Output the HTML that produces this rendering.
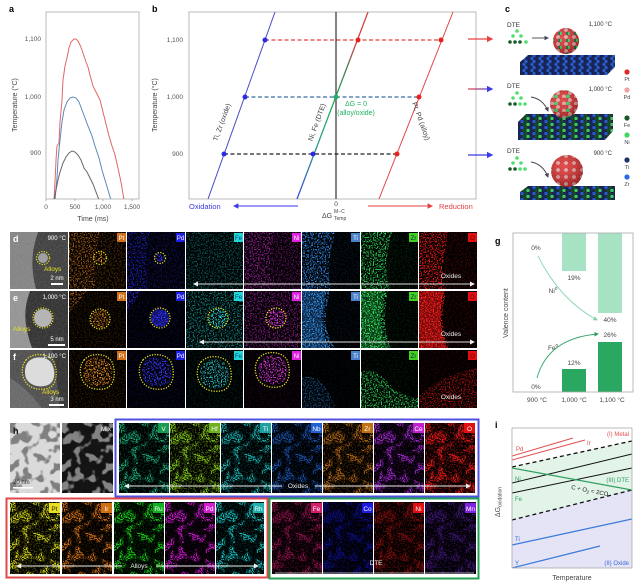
<!DOCTYPE html>
<html><head><meta charset="utf-8">
<style>
html,body{margin:0;padding:0;background:#fff;}
svg{display:block;font-family:"Liberation Sans",sans-serif;}
</style></head><body>
<svg width="640" height="585" viewBox="0 0 640 585" xmlns="http://www.w3.org/2000/svg">
<defs>
<filter id="sp" x="0" y="0" width="1" height="1" color-interpolation-filters="sRGB">
  <feTurbulence type="fractalNoise" baseFrequency="0.75" numOctaves="1" seed="4" result="n"/>
  <feColorMatrix in="n" type="matrix" values="0 0 0 0 0  0 0 0 0 0  0 0 0 0 0  10 0 0 0 -5.1" result="a"/>
  <feComposite in="SourceGraphic" in2="a" operator="in"/>
</filter>
<filter id="blob" x="0" y="0" width="1" height="1" color-interpolation-filters="sRGB">
  <feTurbulence type="fractalNoise" baseFrequency="0.1" numOctaves="2" seed="11" result="b"/>
  <feColorMatrix in="b" type="matrix" values="0 0 0 0 0  0 0 0 0 0  0 0 0 0 0  10 0 0 0 -5.0" result="ba"/>
  <feTurbulence type="fractalNoise" baseFrequency="0.8" numOctaves="1" seed="3" result="f"/>
  <feColorMatrix in="f" type="matrix" values="0 0 0 0 0  0 0 0 0 0  0 0 0 0 0  8 0 0 0 -3.6" result="fa"/>
  <feComposite in="ba" in2="fa" operator="in" result="m"/>
  <feComposite in="SourceGraphic" in2="m" operator="in"/>
</filter>
<filter id="blob0" x="0" y="0" width="1" height="1" color-interpolation-filters="sRGB">
  <feTurbulence type="fractalNoise" baseFrequency="0.1" numOctaves="2" seed="11" result="b"/>
  <feColorMatrix in="b" type="matrix" values="0 0 0 0 0  0 0 0 0 0  0 0 0 0 0  10 0 0 0 -5.1" result="ba"/>
  <feComposite in="SourceGraphic" in2="ba" operator="in"/>
</filter>
<marker id="mr" viewBox="0 0 10 10" refX="8" refY="5" markerWidth="5" markerHeight="5" orient="auto-start-reverse"><path d="M0,0 L10,5 L0,10 z" fill="#e84040"/></marker>
<marker id="mb" viewBox="0 0 10 10" refX="8" refY="5" markerWidth="5" markerHeight="5" orient="auto-start-reverse"><path d="M0,0 L10,5 L0,10 z" fill="#3a3ae8"/></marker>
<marker id="mg" viewBox="0 0 10 10" refX="8" refY="5" markerWidth="5" markerHeight="5" orient="auto-start-reverse"><path d="M0,0 L10,5 L0,10 z" fill="#445"/></marker>
<marker id="mw" viewBox="0 0 10 10" refX="8" refY="5" markerWidth="5" markerHeight="5" orient="auto-start-reverse"><path d="M0,0 L10,5 L0,10 z" fill="#eee"/></marker>
<marker id="mlg" viewBox="0 0 10 10" refX="8" refY="5" markerWidth="5" markerHeight="5" orient="auto-start-reverse"><path d="M0,0 L10,5 L0,10 z" fill="#7fd0a6"/></marker>
<marker id="mdg" viewBox="0 0 10 10" refX="8" refY="5" markerWidth="5" markerHeight="5" orient="auto-start-reverse"><path d="M0,0 L10,5 L0,10 z" fill="#2a9a60"/></marker>
<linearGradient id="dteg" gradientUnits="userSpaceOnUse" x1="297" y1="199" x2="368" y2="12">
  <stop offset="0" stop-color="#3a4ad8"/><stop offset="0.3" stop-color="#2a9a8a"/>
  <stop offset="0.5" stop-color="#20b050"/><stop offset="0.7" stop-color="#4a7a50"/>
  <stop offset="0.82" stop-color="#d04040"/><stop offset="1" stop-color="#e04040"/>
</linearGradient>
<linearGradient id="arg" gradientUnits="userSpaceOnUse" x1="468" y1="0" x2="493" y2="0">
  <stop offset="0" stop-color="#e84040"/><stop offset="1" stop-color="#3a3ae8"/>
</linearGradient>
<pattern id="sb1" width="8" height="6" patternUnits="userSpaceOnUse">
  <rect width="8" height="6" fill="#0e1838"/>
  <circle cx="2" cy="1.5" r="1.8" fill="#1a2858"/><circle cx="6" cy="1.5" r="1.8" fill="#2a5ac8"/>
  <circle cx="0" cy="4.5" r="1.8" fill="#1a2858"/><circle cx="4" cy="4.5" r="1.8" fill="#2a5ac8"/><circle cx="8" cy="4.5" r="1.8" fill="#1a2858"/>
</pattern>
<pattern id="sb2" width="12" height="6" patternUnits="userSpaceOnUse">
  <rect width="12" height="6" fill="#0e1838"/>
  <circle cx="2" cy="1.5" r="1.8" fill="#1a2858"/><circle cx="6" cy="1.5" r="1.8" fill="#2a5ac8"/><circle cx="10" cy="1.5" r="1.8" fill="#1a4a2a"/>
  <circle cx="0" cy="4.5" r="1.8" fill="#40c860"/><circle cx="4" cy="4.5" r="1.8" fill="#1a2858"/><circle cx="8" cy="4.5" r="1.8" fill="#1a4a2a"/><circle cx="12" cy="4.5" r="1.8" fill="#40c860"/>
</pattern>
<pattern id="pm1" width="8" height="7" patternUnits="userSpaceOnUse">
  <rect width="8" height="7" fill="#b01818"/>
  <circle cx="2" cy="2" r="2" fill="#e03030"/><circle cx="6" cy="2" r="2" fill="#f0a0a0"/>
  <circle cx="0" cy="5.5" r="2" fill="#40d060"/><circle cx="4" cy="5.5" r="2" fill="#e03030"/><circle cx="8" cy="5.5" r="2" fill="#1a6a3a"/>
</pattern>
<pattern id="pm2" width="12" height="7" patternUnits="userSpaceOnUse">
  <rect width="12" height="7" fill="#b01818"/>
  <circle cx="2" cy="2" r="2" fill="#e03030"/><circle cx="6" cy="2" r="2" fill="#f0a0a0"/><circle cx="10" cy="2" r="2" fill="#e03030"/>
  <circle cx="0" cy="5.5" r="2" fill="#f0a0a0"/><circle cx="4" cy="5.5" r="2" fill="#40d060"/><circle cx="8" cy="5.5" r="2" fill="#e03030"/><circle cx="12" cy="5.5" r="2" fill="#f0a0a0"/>
</pattern>
<pattern id="pm3" width="8" height="7" patternUnits="userSpaceOnUse">
  <rect width="8" height="7" fill="#b01818"/>
  <circle cx="2" cy="2" r="2" fill="#e03030"/><circle cx="6" cy="2" r="2" fill="#f0a0a0"/>
  <circle cx="0" cy="5.5" r="2" fill="#e03030"/><circle cx="4" cy="5.5" r="2" fill="#e03030"/><circle cx="8" cy="5.5" r="2" fill="#e03030"/>
</pattern>
<radialGradient id="shade" cx="0.4" cy="0.35" r="0.7">
  <stop offset="0" stop-color="#fff" stop-opacity="0.15"/><stop offset="1" stop-color="#000" stop-opacity="0.3"/>
</radialGradient>
<clipPath id="clipA"><rect x="46" y="12" width="93" height="187"/></clipPath>
<clipPath id="clipB"><rect x="189" y="12" width="287" height="187"/></clipPath>
<clipPath id="clipI"><rect x="512" y="428" width="120" height="140"/></clipPath>
</defs>

<rect width="640" height="585" fill="#fff"/>

<!-- ============ PANEL A ============ -->
<text x="9" y="12" font-size="9" font-weight="bold">a</text>
<rect x="46" y="12" width="93" height="187" fill="none" stroke="#aaa" stroke-width="0.8"/>
<g font-size="6.5" fill="#555" text-anchor="end">
  <text x="41" y="41">1,100</text><text x="41" y="99">1,000</text><text x="41" y="155">900</text>
</g>
<text transform="translate(17,105) rotate(-90)" font-size="7" fill="#444" text-anchor="middle">Temperature (°C)</text>
<g stroke="#999" stroke-width="0.7">
  <line x1="46" y1="199" x2="46" y2="201"/><line x1="75" y1="199" x2="75" y2="201"/>
  <line x1="103" y1="199" x2="103" y2="201"/><line x1="132" y1="199" x2="132" y2="201"/>
</g>
<g font-size="6.5" fill="#555" text-anchor="middle">
  <text x="46" y="209">0</text><text x="75" y="209">500</text><text x="103" y="209">1,000</text><text x="132" y="209">1,500</text>
</g>
<text x="93" y="221" font-size="7" fill="#444" text-anchor="middle">Time (ms)</text>
<g clip-path="url(#clipA)" fill="none" stroke-width="1">
  <polyline stroke="#e06666" points="54,200 55,182 56,160 57,146 59,143 60,122 62,100 63,80 65,66 66,62 67,58 69,48 71,42 74,39 76,39 78,41 80,45 82,50 84,56 86,62 88,67 90,75 93,86 96,92 100,100 103,112 106,124 109,136 112,146 115,155 118,168 121,182 124,200"/>
  <polyline stroke="#5a8ab8" points="55,200 57,178 58,160 60,140 62,122 64,110 67,102 70,98 73,97 76,98 79,102 82,110 85,118 88,126 92,136 95,146 99,158 102,170 105,180 108,190 111,200"/>
  <polyline stroke="#666" points="54,200 56,190 58,180 60,172 63,163 66,157 69,153 72,151 75,152 78,155 81,160 84,168 87,172 90,178 93,184 96,192 99,200"/>
</g>

<!-- ============ PANEL B ============ -->
<text x="152" y="12" font-size="9" font-weight="bold">b</text>
<rect x="189" y="12" width="287" height="187" fill="none" stroke="#aaa" stroke-width="0.8"/>
<g font-size="6.5" fill="#555" text-anchor="end">
  <text x="183" y="42">1,100</text><text x="183" y="99">1,000</text><text x="183" y="156">900</text>
</g>
<text transform="translate(157,105) rotate(-90)" font-size="7" fill="#444" text-anchor="middle">Temperature (°C)</text>
<g clip-path="url(#clipB)">
  <line x1="336" y1="12" x2="336" y2="199" stroke="#333" stroke-width="1.2"/>
  <line x1="208" y1="199" x2="275" y2="12" stroke="#4a4ac8" stroke-width="1"/>
  <line x1="297" y1="199" x2="368" y2="12" stroke="url(#dteg)" stroke-width="1.3"/>
  <line x1="379" y1="199" x2="453" y2="12" stroke="#e04848" stroke-width="1"/>
  <line x1="265" y1="40" x2="441" y2="40" stroke="#e84040" stroke-width="1.2" stroke-dasharray="4 2.5"/>
  <line x1="245" y1="97" x2="419" y2="97" stroke="#3a6ea5" stroke-width="1.2" stroke-dasharray="4 2.5"/>
  <line x1="224" y1="154" x2="397" y2="154" stroke="#222" stroke-width="1.2" stroke-dasharray="4 2.5"/>
  <circle cx="265" cy="40" r="2.5" fill="#2a2ae8"/><circle cx="358" cy="40" r="2.5" fill="#e82020"/><circle cx="441" cy="40" r="2.5" fill="#e82020"/>
  <circle cx="245" cy="97" r="2.5" fill="#2a2ae8"/><circle cx="336" cy="97" r="2.5" fill="#20b060"/><circle cx="419" cy="97" r="2.5" fill="#e82020"/>
  <circle cx="224" cy="154" r="2.5" fill="#2a2ae8"/><circle cx="313" cy="154" r="2.5" fill="#2a2ae8"/><circle cx="397" cy="154" r="2.5" fill="#e82020"/>
</g>
<g font-size="7" fill="#444" text-anchor="middle">
  <text transform="translate(224,123) rotate(-70)">Ti, Zr (oxide)</text>
  <text transform="translate(319,123) rotate(-70)">Ni, Fe (DTE)</text>
  <text transform="translate(419,122) rotate(70)">Pt, Pd (alloy)</text>
</g>
<g font-size="7" fill="#20b060" text-anchor="middle">
  <text x="356" y="106">ΔG = 0</text><text x="356" y="115">(alloy/oxide)</text>
</g>
<text x="336" y="206" font-size="6.5" fill="#444" text-anchor="middle">0</text>
<text x="322" y="218" font-size="7" fill="#444">ΔG</text>
<text x="334" y="213" font-size="5" fill="#444">M−C</text>
<text x="334" y="220" font-size="5" fill="#444">Temp</text>
<text x="189" y="209" font-size="7.5" fill="#3a3ae0">Oxidation</text>
<line x1="298" y1="206" x2="234" y2="206" stroke="#3a3ae8" stroke-width="1.1" marker-end="url(#mb)"/>
<line x1="368" y1="206" x2="432" y2="206" stroke="#e84040" stroke-width="1.1" marker-end="url(#mr)"/>
<text x="439" y="209" font-size="7.5" fill="#e04040">Reduction</text>

<!-- ============ PANEL C ============ -->
<text x="505" y="12" font-size="9" font-weight="bold">c</text>
<line x1="468" y1="39" x2="492" y2="39" stroke="#e84040" stroke-width="1.3" marker-end="url(#mr)"/>
<line x1="468" y1="89" x2="492" y2="89" stroke="url(#arg)" stroke-width="1.3" marker-end="url(#mb)"/>
<line x1="468" y1="155" x2="492" y2="155" stroke="#3a3ae8" stroke-width="1.3" marker-end="url(#mb)"/>
<g font-size="6.5" fill="#333">
  <text x="507" y="27">DTE</text><text x="507" y="88">DTE</text><text x="507" y="153">DTE</text>
  <text x="612" y="26" text-anchor="end" font-size="6">1,100 °C</text>
  <text x="612" y="91" text-anchor="end" font-size="6">1,000 °C</text>
  <text x="612" y="155" text-anchor="end" font-size="6">900 °C</text>
</g>
<g>
  <circle cx="517" cy="31" r="1.8" fill="#50e070"/><circle cx="513" cy="36" r="1.8" fill="#50e070"/><circle cx="521" cy="36" r="1.8" fill="#50e070"/>
  <circle cx="510" cy="42" r="1.8" fill="#1a5a2a"/><circle cx="515" cy="42" r="1.8" fill="#1a5a2a"/><circle cx="520" cy="42" r="1.8" fill="#1a5a2a"/><circle cx="526" cy="42" r="1.8" fill="#50e070"/>
  <circle cx="517" cy="93" r="1.8" fill="#50e070"/><circle cx="513" cy="98" r="1.8" fill="#50e070"/><circle cx="521" cy="98" r="1.8" fill="#50e070"/>
  <circle cx="510" cy="104" r="1.8" fill="#1a5a2a"/><circle cx="515" cy="104" r="1.8" fill="#1a5a2a"/><circle cx="520" cy="104" r="1.8" fill="#50e070"/><circle cx="525" cy="104" r="1.8" fill="#50e070"/>
  <circle cx="517" cy="158" r="1.8" fill="#50e070"/><circle cx="513" cy="163" r="1.8" fill="#50e070"/><circle cx="521" cy="163" r="1.8" fill="#50e070"/>
  <circle cx="510" cy="169" r="1.8" fill="#1a5a2a"/><circle cx="515" cy="169" r="1.8" fill="#1a5a2a"/><circle cx="520" cy="169" r="1.8" fill="#50e070"/><circle cx="525" cy="169" r="1.8" fill="#50e070"/>
</g>
<line x1="532" y1="38" x2="548" y2="38" stroke="#445" stroke-width="0.9" marker-end="url(#mg)"/>
<path d="M531,97 Q543,99 548,111" fill="none" stroke="#445" stroke-width="0.9" marker-end="url(#mg)"/>
<path d="M531,162 Q543,164 548,177" fill="none" stroke="#445" stroke-width="0.9" marker-end="url(#mg)"/>
<path d="M520,62 L528,55 L615,55 L615,67 L607,75 L520,75 Z" fill="url(#sb1)"/>
<path d="M518,122 L526,114 L613,114 L613,131 L605,140 L518,140 Z" fill="url(#sb2)"/>
<path d="M520,192 L528,186 L615,186 L615,200 L520,200 Z" fill="url(#sb2)"/>
<circle cx="566" cy="41" r="13" fill="url(#pm1)"/><circle cx="566" cy="41" r="13" fill="url(#shade)"/>
<circle cx="564" cy="104" r="14" fill="url(#pm2)"/><circle cx="564" cy="104" r="14" fill="url(#shade)"/>
<circle cx="567" cy="171" r="16" fill="url(#pm3)"/><circle cx="567" cy="171" r="16" fill="url(#shade)"/>
<g font-size="5.5" fill="#444" text-anchor="middle">
  <circle cx="627" cy="72" r="2.6" fill="#e02828"/><text x="627" y="81">Pt</text>
  <circle cx="627" cy="90" r="2.6" fill="#f0a0a0"/><text x="627" y="99">Pd</text>
  <circle cx="627" cy="118" r="2.6" fill="#1a5a2a"/><text x="627" y="127">Fe</text>
  <circle cx="627" cy="135" r="2.6" fill="#40d860"/><text x="627" y="144">Ni</text>
  <circle cx="627" cy="160" r="2.6" fill="#1e3068"/><text x="627" y="169">Ti</text>
  <circle cx="627" cy="177" r="2.6" fill="#2a6ae0"/><text x="627" y="186">Zr</text>
</g>

<!-- ============ PANELS D-F ============ -->
<g fill="#000">
  <rect x="69" y="232" width="57" height="57"/><rect x="127" y="232" width="58" height="57"/><rect x="186" y="232" width="57" height="57"/><rect x="244" y="232" width="57" height="57"/><rect x="302" y="232" width="58" height="57"/><rect x="361" y="232" width="57" height="57"/><rect x="419" y="232" width="58" height="57"/>
  <rect x="69" y="291" width="57" height="57"/><rect x="127" y="291" width="58" height="57"/><rect x="186" y="291" width="57" height="57"/><rect x="244" y="291" width="57" height="57"/><rect x="302" y="291" width="58" height="57"/><rect x="361" y="291" width="57" height="57"/><rect x="419" y="291" width="58" height="57"/>
  <rect x="69" y="350" width="57" height="58"/><rect x="127" y="350" width="58" height="58"/><rect x="186" y="350" width="57" height="58"/><rect x="244" y="350" width="57" height="58"/><rect x="302" y="350" width="58" height="58"/><rect x="361" y="350" width="57" height="58"/><rect x="419" y="350" width="58" height="58"/>
</g>
<!-- HAADF d -->
<rect x="10" y="232" width="58" height="57" fill="#444"/>
<path d="M10,232 H38 C32,250 30,265 36,289 H10 Z" fill="#858585"/>
<rect x="10" y="232" width="58" height="57" fill="#fff" filter="url(#sp)" opacity="0.08"/>
<circle cx="43" cy="258" r="5" fill="#a0a0a0"/>
<circle cx="43" cy="258" r="6.5" fill="none" stroke="#e8e020" stroke-width="1.3" stroke-dasharray="1.2 1.4"/>
<text x="13" y="242" font-size="9" font-weight="bold" fill="#fff">d</text>
<text x="66" y="240" font-size="6" fill="#fff" text-anchor="end">900 °C</text>
<text x="44" y="271" font-size="6.5" fill="#e8e020">Alloys</text>
<text x="57" y="280" font-size="6" fill="#fff" text-anchor="middle">2 nm</text>
<rect x="51" y="283" width="12" height="2" fill="#fff"/>
<!-- HAADF e -->
<rect x="10" y="291" width="58" height="57" fill="#363636"/>
<path d="M10,291 H30 C25,305 22,320 32,348 H10 Z" fill="#959595"/>
<rect x="10" y="291" width="58" height="57" fill="#fff" filter="url(#sp)" opacity="0.08"/>
<circle cx="43" cy="318" r="9" fill="#b5b5b5"/>
<circle cx="43" cy="318" r="10" fill="none" stroke="#e8e020" stroke-width="1.3" stroke-dasharray="1.2 1.4"/>
<text x="13" y="301" font-size="9" font-weight="bold" fill="#fff">e</text>
<text x="66" y="299" font-size="6" fill="#fff" text-anchor="end">1,000 °C</text>
<text x="13" y="331" font-size="6.5" fill="#e8e020">Alloys</text>
<text x="57" y="341" font-size="6" fill="#fff" text-anchor="middle">5 nm</text>
<rect x="48" y="344" width="17" height="2" fill="#fff"/>
<!-- HAADF f -->
<rect x="10" y="350" width="58" height="58" fill="#525252"/>
<path d="M10,378 C22,385 32,395 42,408 H10 Z" fill="#6a6a6a"/>
<path d="M52,350 H68 V408 H60 C58,395 56,370 52,350Z" fill="#363636"/>
<rect x="10" y="350" width="58" height="58" fill="#fff" filter="url(#sp)" opacity="0.08"/>
<path d="M28,362 C34,355 48,356 52,364 C56,372 55,382 48,385 C40,388 30,386 26,378 C24,372 25,366 28,362Z" fill="#dcdcdc"/>
<path d="M26,360 C33,352 49,353 54,362 C58,372 57,384 49,388 C40,391 28,389 24,379 C21,372 22,365 26,360Z" fill="none" stroke="#e8e020" stroke-width="1.3" stroke-dasharray="1.2 1.4"/>
<text x="13" y="360" font-size="9" font-weight="bold" fill="#fff">f</text>
<text x="66" y="358" font-size="6" fill="#fff" text-anchor="end">1,100 °C</text>
<text x="42" y="394" font-size="6.5" fill="#e8e020">Alloys</text>
<text x="57" y="401" font-size="6" fill="#fff" text-anchor="middle">3 nm</text>
<rect x="49" y="404" width="15" height="2" fill="#fff"/>

<!-- Row d maps -->
<g>
  <rect x="69" y="232" width="57" height="57" fill="#c87018" filter="url(#sp)" opacity="0.35"/>
  <path d="M69,232 H100 C95,250 92,270 96,289 H69 Z" fill="#c87018" filter="url(#sp)" opacity="0.6"/>
  <circle cx="100" cy="258" r="5" fill="#e08820" filter="url(#sp)"/>
  <rect x="127" y="232" width="58" height="57" fill="#2828e0" filter="url(#sp)" opacity="0.35"/>
  <path d="M127,232 H150 C146,250 144,270 148,289 H127 Z" fill="#2828e0" filter="url(#sp)" opacity="0.6"/>
  <circle cx="160" cy="258" r="4.5" fill="#3838ff" filter="url(#sp)"/>
  <rect x="186" y="232" width="57" height="57" fill="#18c0c0" filter="url(#sp)" opacity="0.4"/>
  <rect x="244" y="232" width="57" height="57" fill="#b828b8" filter="url(#sp)" opacity="0.45"/>
  <path d="M244,232 H275 C270,250 268,270 272,289 H244 Z" fill="#b828b8" filter="url(#sp)" opacity="0.5"/>
  <rect x="302" y="232" width="58" height="57" fill="#2a80d8" filter="url(#sp)" opacity="0.15"/>
  <path d="M302,232 H335 C330,250 326,270 332,289 H302 Z" fill="#2a80d8" filter="url(#sp)"/>
  <rect x="361" y="232" width="57" height="57" fill="#28c850" filter="url(#sp)" opacity="0.15"/>
  <path d="M361,232 H392 C386,255 384,270 390,289 H361 Z" fill="#28c850" filter="url(#sp)"/>
  <rect x="419" y="232" width="58" height="57" fill="#e01818" filter="url(#sp)" opacity="0.25"/>
  <path d="M419,232 H448 C444,255 440,270 446,289 H419 Z" fill="#e01818" filter="url(#sp)"/>
</g>
<!-- Row e maps -->
<g>
  <rect x="69" y="291" width="57" height="57" fill="#c87018" filter="url(#sp)" opacity="0.2"/>
  <path d="M69,291 H86 C80,300 75,306 69,312 Z" fill="#c87018" filter="url(#sp)" opacity="0.8"/>
  <circle cx="100" cy="319" r="9" fill="#e08820" filter="url(#sp)" opacity="0.9"/>
  <rect x="127" y="291" width="58" height="57" fill="#2828e0" filter="url(#sp)" opacity="0.2"/>
  <path d="M127,291 H141 C136,300 132,306 127,313 Z" fill="#2828e0" filter="url(#sp)" opacity="0.9"/>
  <circle cx="160" cy="318" r="9" fill="#2020c8" opacity="0.5"/>
  <circle cx="160" cy="318" r="9" fill="#3838ff" filter="url(#sp)"/>
  <rect x="186" y="291" width="57" height="57" fill="#18c0c0" filter="url(#sp)" opacity="0.6"/>
  <circle cx="218" cy="318" r="9" fill="#30e8e8" filter="url(#sp)"/>
  <rect x="244" y="291" width="57" height="57" fill="#b828b8" filter="url(#sp)" opacity="0.6"/>
  <circle cx="276" cy="318" r="9" fill="#e038e0" filter="url(#sp)"/>
  <rect x="302" y="291" width="58" height="57" fill="#2a80d8" filter="url(#sp)" opacity="0.12"/>
  <path d="M302,291 H326 C322,310 318,330 330,348 H302 Z" fill="#2a70c0" opacity="0.35"/>
  <path d="M302,291 H330 C325,310 322,330 335,348 H302 Z" fill="#3090e8" filter="url(#sp)"/>
  <rect x="361" y="291" width="57" height="57" fill="#28c850" filter="url(#sp)" opacity="0.12"/>
  <path d="M361,291 H384 C380,310 378,330 388,348 H361 Z" fill="#20a040" opacity="0.35"/>
  <path d="M361,291 H388 C384,310 382,330 392,348 H361 Z" fill="#30e060" filter="url(#sp)"/>
  <rect x="419" y="291" width="58" height="57" fill="#e01818" filter="url(#sp)" opacity="0.2"/>
  <path d="M419,291 H444 C440,310 438,330 447,348 H419 Z" fill="#d01010" opacity="0.55"/>
  <path d="M419,291 H446 C442,310 440,330 450,348 H419 Z" fill="#ff2020" filter="url(#sp)"/>
</g>
<!-- Row f maps -->
<g>
  <rect x="69" y="350" width="57" height="58" fill="#c87018" filter="url(#sp)" opacity="0.2"/>
  <path d="M86,362 C92,355 106,356 110,364 C114,372 113,382 106,385 C98,388 88,386 84,378 C82,372 83,366 86,362Z" fill="#e08820" filter="url(#sp)"/>
  <rect x="127" y="350" width="58" height="58" fill="#2828e0" filter="url(#sp)" opacity="0.2"/>
  <path d="M145,362 C151,355 165,356 169,364 C173,372 172,382 165,385 C157,388 147,386 143,378 C141,372 142,366 145,362Z" fill="#3838ff" filter="url(#sp)"/>
  <rect x="186" y="350" width="57" height="58" fill="#18c0c0" filter="url(#sp)" opacity="0.12"/>
  <path d="M203,364 C209,357 223,358 227,366 C231,374 230,384 223,387 C215,390 205,388 201,380 C199,374 200,368 203,364Z" fill="#30e0e0" filter="url(#sp)" opacity="0.8"/>
  <rect x="244" y="350" width="57" height="58" fill="#b828b8" filter="url(#sp)" opacity="0.12"/>
  <path d="M261,360 C267,353 281,354 285,362 C289,370 288,380 281,383 C273,386 263,384 259,376 C257,370 258,364 261,360Z" fill="#e038e0" filter="url(#sp)" opacity="0.9"/>
  <rect x="302" y="350" width="58" height="58" fill="#2a80d8" filter="url(#sp)" opacity="0.08"/>
  <path d="M302,378 C315,372 325,382 336,408 H302 Z" fill="#2a80d8" filter="url(#sp)" opacity="0.5"/>
  <rect x="361" y="350" width="57" height="58" fill="#28c850" filter="url(#sp)" opacity="0.1"/>
  <path d="M361,372 C375,365 385,380 395,390 C405,395 410,398 418,398 V408 H361 Z" fill="#30e060" filter="url(#sp)" opacity="0.8"/>
  <rect x="419" y="350" width="58" height="58" fill="#e01818" filter="url(#sp)" opacity="0.15"/>
  <path d="M419,408 V396 C430,386 440,380 450,376 C460,372 470,370 477,368 V408 Z" fill="#e01818" filter="url(#sp)" opacity="0.6"/>
</g>
<g fill="none" stroke="#e8e020" stroke-width="1.3" stroke-dasharray="1.2 1.4">
  <circle cx="100" cy="258" r="6.5"/><circle cx="160" cy="258" r="5.5"/>
  <circle cx="100" cy="319" r="10"/><circle cx="160" cy="318" r="10"/><circle cx="218" cy="318" r="10"/><circle cx="276" cy="318" r="10"/>
  <path d="M84,360 C91,352 107,353 112,362 C116,372 115,384 107,388 C98,391 86,389 82,379 C79,372 80,365 84,360Z"/>
  <path d="M143,360 C150,352 166,353 171,362 C175,372 174,384 166,388 C157,391 145,389 141,379 C138,372 139,365 143,360Z"/>
  <path d="M201,362 C208,354 224,355 229,364 C233,374 232,386 224,390 C215,393 203,391 199,381 C196,374 197,367 201,362Z"/>
  <path d="M259,358 C266,350 282,351 287,360 C291,370 290,382 282,386 C273,389 261,387 257,377 C254,370 255,363 259,358Z"/>
</g>
<g font-size="6" text-anchor="middle">
  <rect x="117" y="233" width="9" height="9" fill="#d0701a"/><text x="121.5" y="240" fill="#fff">Pt</text>
  <rect x="176" y="233" width="9" height="9" fill="#2020e0"/><text x="180.5" y="240" fill="#fff">Pd</text>
  <rect x="234" y="233" width="9" height="9" fill="#20d8d8"/><text x="238.5" y="240" fill="#0a3a7a">Fe</text>
  <rect x="292" y="233" width="9" height="9" fill="#e020e0"/><text x="296.5" y="240" fill="#fff">Ni</text>
  <rect x="351" y="233" width="9" height="9" fill="#4a80c8"/><text x="355.5" y="240" fill="#fff">Ti</text>
  <rect x="409" y="233" width="9" height="9" fill="#40d020"/><text x="413.5" y="240" fill="#124">Zr</text>
  <rect x="468" y="233" width="9" height="9" fill="#e01010"/><text x="472.5" y="240" fill="#600">O</text>
  <rect x="117" y="292" width="9" height="9" fill="#d0701a"/><text x="121.5" y="299" fill="#fff">Pt</text>
  <rect x="176" y="292" width="9" height="9" fill="#2020e0"/><text x="180.5" y="299" fill="#fff">Pd</text>
  <rect x="234" y="292" width="9" height="9" fill="#20d8d8"/><text x="238.5" y="299" fill="#0a3a7a">Fe</text>
  <rect x="292" y="292" width="9" height="9" fill="#e020e0"/><text x="296.5" y="299" fill="#fff">Ni</text>
  <rect x="351" y="292" width="9" height="9" fill="#4a80c8"/><text x="355.5" y="299" fill="#fff">Ti</text>
  <rect x="409" y="292" width="9" height="9" fill="#40d020"/><text x="413.5" y="299" fill="#124">Zr</text>
  <rect x="468" y="292" width="9" height="9" fill="#e01010"/><text x="472.5" y="299" fill="#600">O</text>
  <rect x="117" y="351" width="9" height="9" fill="#d0701a"/><text x="121.5" y="358" fill="#fff">Pt</text>
  <rect x="176" y="351" width="9" height="9" fill="#2020e0"/><text x="180.5" y="358" fill="#fff">Pd</text>
  <rect x="234" y="351" width="9" height="9" fill="#20d8d8"/><text x="238.5" y="358" fill="#0a3a7a">Fe</text>
  <rect x="292" y="351" width="9" height="9" fill="#e020e0"/><text x="296.5" y="358" fill="#fff">Ni</text>
  <rect x="351" y="351" width="9" height="9" fill="#4a80c8"/><text x="355.5" y="358" fill="#fff">Ti</text>
  <rect x="409" y="351" width="9" height="9" fill="#40d020"/><text x="413.5" y="358" fill="#124">Zr</text>
  <rect x="468" y="351" width="9" height="9" fill="#e01010"/><text x="472.5" y="358" fill="#600">O</text>
</g>
<line x1="194" y1="284" x2="474" y2="284" stroke="#ddd" stroke-width="1" marker-start="url(#mw)" marker-end="url(#mw)"/>
<text x="451" y="278" font-size="6.5" fill="#eee" text-anchor="middle">Oxides</text>
<line x1="200" y1="342" x2="474" y2="342" stroke="#ddd" stroke-width="1" marker-start="url(#mw)" marker-end="url(#mw)"/>
<text x="451" y="336" font-size="6.5" fill="#eee" text-anchor="middle">Oxides</text>
<text x="451" y="399" font-size="6.5" fill="#eee" text-anchor="middle">Oxides</text>

<!-- ============ PANEL G ============ -->
<text x="495" y="244" font-size="9" font-weight="bold">g</text>
<rect x="562" y="233" width="24" height="38" fill="#a8e2c4"/>
<rect x="598" y="233" width="24" height="80" fill="#a8e2c4"/>
<rect x="562" y="369" width="24" height="23" fill="#2aa862"/>
<rect x="598" y="342" width="24" height="50" fill="#2aa862"/>
<rect x="513" y="233" width="120" height="159" fill="none" stroke="#aaa" stroke-width="0.8"/>
<g font-size="6.5" fill="#444" text-anchor="middle">
  <text x="536" y="250">0%</text><text x="574" y="280">19%</text><text x="610" y="322">40%</text>
  <text x="610" y="337">26%</text><text x="574" y="365">12%</text><text x="536" y="389">0%</text>
  <text x="553" y="293">Ni<tspan font-size="4.5" dy="-3">0</tspan></text>
  <text x="553" y="350">Fe<tspan font-size="4.5" dy="-3">0</tspan></text>
  <text x="537" y="402">900 °C</text><text x="574" y="402">1,000 °C</text><text x="612" y="402">1,100 °C</text>
</g>
<path d="M538,256 Q560,300 597,320" fill="none" stroke="#8ad8b0" stroke-width="0.9" marker-end="url(#mlg)"/>
<path d="M537,378 Q548,338 598,334" fill="none" stroke="#3aa870" stroke-width="0.9" marker-end="url(#mdg)"/>
<text transform="translate(508,313) rotate(-90)" font-size="7" fill="#444" text-anchor="middle">Valence content</text>

<!-- ============ PANEL H ============ -->
<rect x="10" y="423" width="50" height="70" fill="#dadada"/>
<g transform="translate(10,423)"><rect width="50" height="70" fill="#5a5a5a" filter="url(#blob0)" opacity="0.7"/></g>
<text x="13" y="434" font-size="9" font-weight="bold" fill="#111">h</text>
<text x="13" y="484" font-size="6" fill="#222">20 nm</text>
<rect x="13" y="487" width="20" height="1.6" fill="#fff"/>
<rect x="62" y="423" width="51" height="70" fill="#141414"/>
<g transform="translate(62,423)"><rect width="51" height="70" fill="#a8a8a8" filter="url(#blob0)" opacity="0.75"/></g>
<text x="111" y="431" font-size="6.5" fill="#eee" text-anchor="end">Mix</text>
<rect x="115.5" y="419.5" width="363" height="77" fill="none" stroke="#5050e0" stroke-width="2"/>
<g>
  <rect x="119" y="423" width="50" height="70" fill="#000"/><rect x="170" y="423" width="50" height="70" fill="#000"/><rect x="221" y="423" width="50" height="70" fill="#000"/><rect x="272" y="423" width="50" height="70" fill="#000"/><rect x="323" y="423" width="50" height="70" fill="#000"/><rect x="374" y="423" width="50" height="70" fill="#000"/><rect x="425" y="423" width="50" height="70" fill="#000"/>
  <g transform="translate(119,423)"><rect width="50" height="70" fill="#18a878" filter="url(#blob)"/><rect width="50" height="70" fill="#18a878" filter="url(#sp)" opacity="0.25"/></g>
  <g transform="translate(170,423)"><rect width="50" height="70" fill="#80c018" filter="url(#blob)"/><rect width="50" height="70" fill="#80c018" filter="url(#sp)" opacity="0.45"/></g>
  <g transform="translate(221,423)"><rect width="50" height="70" fill="#18b0b0" filter="url(#blob)"/><rect width="50" height="70" fill="#18b0b0" filter="url(#sp)" opacity="0.25"/></g>
  <g transform="translate(272,423)"><rect width="50" height="70" fill="#2060c8" filter="url(#blob)" opacity="0.85"/><rect width="50" height="70" fill="#2060c8" filter="url(#sp)" opacity="0.25"/></g>
  <g transform="translate(323,423)"><rect width="50" height="70" fill="#c07018" filter="url(#blob)" opacity="0.9"/><rect width="50" height="70" fill="#c07018" filter="url(#sp)" opacity="0.3"/></g>
  <g transform="translate(374,423)"><rect width="50" height="70" fill="#a028d0" filter="url(#blob)"/><rect width="50" height="70" fill="#a028d0" filter="url(#sp)" opacity="0.25"/></g>
  <g transform="translate(425,423)"><rect width="50" height="70" fill="#e81818" filter="url(#blob)"/><rect width="50" height="70" fill="#e81818" filter="url(#sp)" opacity="0.5"/></g>
</g>
<g font-size="6.5" text-anchor="middle">
  <rect x="158" y="423" width="11" height="10" fill="#1a9a50"/><text x="163.5" y="431" fill="#fff">V</text>
  <rect x="209" y="423" width="11" height="10" fill="#70b020"/><text x="214.5" y="431" fill="#fff">Hf</text>
  <rect x="260" y="423" width="11" height="10" fill="#20a0a0"/><text x="265.5" y="431" fill="#fff">Ti</text>
  <rect x="311" y="423" width="11" height="10" fill="#2060d0"/><text x="316.5" y="431" fill="#fff">Nb</text>
  <rect x="362" y="423" width="11" height="10" fill="#c07010"/><text x="367.5" y="431" fill="#fff">Zr</text>
  <rect x="413" y="423" width="11" height="10" fill="#c020d0"/><text x="418.5" y="431" fill="#fff">Ce</text>
  <rect x="464" y="423" width="11" height="10" fill="#e01010"/><text x="469.5" y="431" fill="#fff">O</text>
</g>
<line x1="282" y1="486" x2="125" y2="486" stroke="#eee" stroke-width="1" marker-end="url(#mw)"/>
<line x1="315" y1="486" x2="470" y2="486" stroke="#eee" stroke-width="1" marker-end="url(#mw)"/>
<text x="298" y="488" font-size="6.5" fill="#eee" text-anchor="middle">Oxides</text>

<rect x="6.5" y="498.5" width="261" height="79" fill="none" stroke="#e04848" stroke-width="2"/>
<g>
  <rect x="10" y="502" width="50" height="72" fill="#000"/><rect x="62" y="502" width="50" height="72" fill="#000"/><rect x="114" y="502" width="50" height="72" fill="#000"/><rect x="165" y="502" width="50" height="72" fill="#000"/><rect x="216" y="502" width="48" height="72" fill="#000"/>
  <g transform="translate(10,502)"><rect width="50" height="72" fill="#d0d018" filter="url(#blob)"/><rect width="50" height="72" fill="#d0d018" filter="url(#sp)" opacity="0.3"/></g>
  <g transform="translate(62,502)"><rect width="50" height="72" fill="#d07018" filter="url(#blob)"/><rect width="50" height="72" fill="#d07018" filter="url(#sp)" opacity="0.2"/></g>
  <g transform="translate(114,502)"><rect width="50" height="72" fill="#18d018" filter="url(#blob)"/><rect width="50" height="72" fill="#18d018" filter="url(#sp)" opacity="0.2"/></g>
  <g transform="translate(165,502)"><rect width="50" height="72" fill="#d018d0" filter="url(#blob)"/><rect width="50" height="72" fill="#d018d0" filter="url(#sp)" opacity="0.15"/></g>
  <g transform="translate(216,502)"><rect width="48" height="72" fill="#18c0c0" filter="url(#blob)"/><rect width="48" height="72" fill="#18c0c0" filter="url(#sp)" opacity="0.2"/></g>
</g>
<g font-size="6.5" text-anchor="middle">
  <rect x="49" y="503" width="11" height="10" fill="#e8e020"/><text x="54.5" y="511" fill="#222">Pt</text>
  <rect x="101" y="503" width="11" height="10" fill="#d07010"/><text x="106.5" y="511" fill="#fff">Ir</text>
  <rect x="153" y="503" width="11" height="10" fill="#10b020"/><text x="158.5" y="511" fill="#fff">Ru</text>
  <rect x="204" y="503" width="11" height="10" fill="#d020d0"/><text x="209.5" y="511" fill="#fff">Pd</text>
  <rect x="253" y="503" width="11" height="10" fill="#20b0b0"/><text x="258.5" y="511" fill="#fff">Rh</text>
</g>
<line x1="122" y1="566" x2="17" y2="566" stroke="#eee" stroke-width="1" marker-end="url(#mw)"/>
<line x1="156" y1="566" x2="258" y2="566" stroke="#eee" stroke-width="1" marker-end="url(#mw)"/>
<text x="139" y="568" font-size="6.5" fill="#eee" text-anchor="middle">Alloys</text>

<rect x="269.5" y="498.5" width="209" height="80" fill="none" stroke="#20a050" stroke-width="2"/>
<g>
  <rect x="272" y="502" width="50" height="72" fill="#000"/><rect x="323" y="502" width="50" height="72" fill="#000"/><rect x="374" y="502" width="50" height="72" fill="#000"/><rect x="425" y="502" width="51" height="72" fill="#000"/>
  <g transform="translate(272,502)"><rect width="50" height="72" fill="#c01868" filter="url(#blob)" opacity="0.7"/><rect width="50" height="72" fill="#c01868" filter="url(#sp)" opacity="0.3"/></g>
  <g transform="translate(323,502)"><rect width="50" height="72" fill="#1818e8" filter="url(#blob)" opacity="0.55"/><rect width="50" height="72" fill="#1818e8" filter="url(#sp)" opacity="0.3"/></g>
  <g transform="translate(374,502)"><rect width="50" height="72" fill="#d01818" filter="url(#blob)" opacity="0.55"/><rect width="50" height="72" fill="#d01818" filter="url(#sp)" opacity="0.35"/></g>
  <g transform="translate(425,502)"><rect width="51" height="72" fill="#7028d0" filter="url(#blob)" opacity="0.5"/><rect width="51" height="72" fill="#7028d0" filter="url(#sp)" opacity="0.3"/></g>
</g>
<g font-size="6.5" text-anchor="middle">
  <rect x="311" y="503" width="11" height="10" fill="#d0206a"/><text x="316.5" y="511" fill="#fff">Fe</text>
  <rect x="362" y="503" width="11" height="10" fill="#1a1ae0"/><text x="367.5" y="511" fill="#fff">Co</text>
  <rect x="413" y="503" width="11" height="10" fill="#e01010"/><text x="418.5" y="511" fill="#fff">Ni</text>
  <rect x="465" y="503" width="11" height="10" fill="#8020e0"/><text x="470.5" y="511" fill="#fff">Mn</text>
</g>
<line x1="275" y1="573" x2="474" y2="573" stroke="#ddd" stroke-width="0.8"/>
<text x="376" y="565" font-size="6.5" fill="#eee" text-anchor="middle">DTE</text>

<!-- ============ PANEL I ============ -->
<text x="495" y="428" font-size="9" font-weight="bold">i</text>
<g clip-path="url(#clipI)">
  <polygon points="512,467 632,441 632,490 512,520" fill="#e2f3e8"/>
  <polygon points="512,520 632,490 632,568 512,568" fill="#e4e4f6"/>
  <line x1="512" y1="456" x2="573" y2="438" stroke="#e05050" stroke-width="1"/>
  <line x1="512" y1="460" x2="585" y2="440" stroke="#e05050" stroke-width="1"/>
  <line x1="512" y1="467" x2="632" y2="441" stroke="#111" stroke-width="1.3" stroke-dasharray="4 3"/>
  <line x1="512" y1="520" x2="632" y2="490" stroke="#111" stroke-width="1.3" stroke-dasharray="4 3"/>
  <line x1="512" y1="483" x2="632" y2="454" stroke="#111" stroke-width="1"/>
  <line x1="512" y1="493" x2="632" y2="468" stroke="#111" stroke-width="1"/>
  <line x1="512" y1="468" x2="632" y2="490" stroke="#30a060" stroke-width="1.2"/>
  <line x1="512" y1="545" x2="632" y2="519" stroke="#3a7ad8" stroke-width="1.2"/>
  <line x1="512" y1="568" x2="600" y2="546" stroke="#3a7ad8" stroke-width="1.2"/>
</g>
<rect x="512" y="428" width="120" height="140" fill="none" stroke="#aaa" stroke-width="0.8"/>
<g font-size="6">
  <text x="629" y="436" fill="#e05050" text-anchor="end">(I) Metal</text>
  <text x="629" y="482" fill="#30a060" text-anchor="end">(III) DTE</text>
  <text x="629" y="565" fill="#3a6ad8" text-anchor="end">(II) Oxide</text>
  <text x="516" y="451" fill="#e05050">Pd</text>
  <text x="587" y="445" fill="#e05050">Ir</text>
  <text x="515" y="481" fill="#30a060">Ni</text>
  <text x="515" y="501" fill="#30a060">Fe</text>
  <text x="515" y="541" fill="#3a6ad8">Ti</text>
  <text x="515" y="565" fill="#3a6ad8">Y</text>
  <text transform="translate(571,489) rotate(11)" fill="#222">C + O<tspan font-size="4.5" dy="1.5">2</tspan><tspan dy="-1.5"> = 2CO</tspan></text>
</g>
<text transform="translate(500,502) rotate(-90)" font-size="7" fill="#444" text-anchor="middle">ΔG<tspan font-size="5" dy="1.5">oxidation</tspan></text>
<text x="572" y="580" font-size="7" fill="#444" text-anchor="middle">Temperature</text>
</svg>
</body></html>
